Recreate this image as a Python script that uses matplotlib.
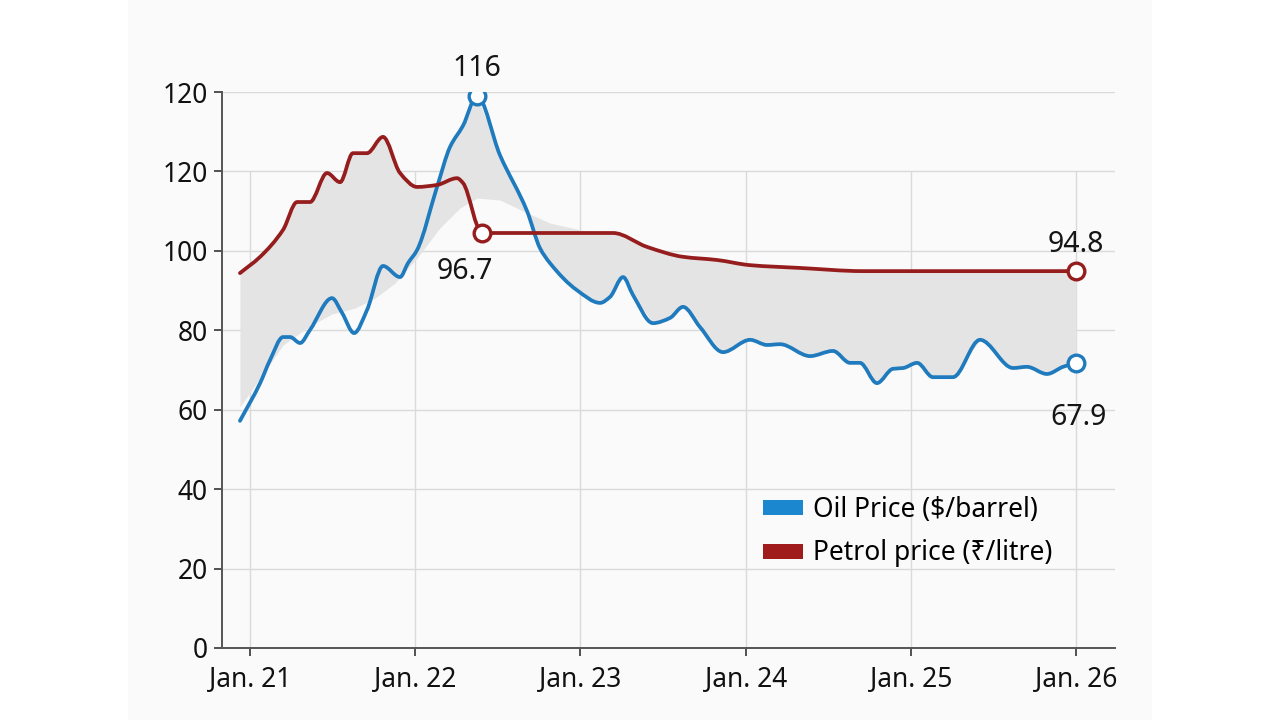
import numpy as np
import matplotlib
matplotlib.use("Agg")
import matplotlib.pyplot as plt
from matplotlib.patches import Patch, Rectangle, PathPatch
from matplotlib.path import Path

plt.rcParams['font.family'] = ['Noto Sans', 'DejaVu Sans']

# oil price line (x in fractional years, y on the chart's own scale)
oil_x = [2020.939, 2021.061, 2021.121, 2021.200, 2021.242, 2021.303, 2021.363,
         2021.496, 2021.557, 2021.630, 2021.708, 2021.805, 2021.908, 2021.956,
         2022.011, 2022.132, 2022.211, 2022.289, 2022.374, 2022.513, 2022.677,
         2022.755, 2022.816, 2022.979, 2023.119, 2023.179, 2023.258, 2023.318,
         2023.439, 2023.542, 2023.621, 2023.724, 2023.863, 2024.027, 2024.130,
         2024.208, 2024.390, 2024.529, 2024.632, 2024.692, 2024.795, 2024.892,
         2024.953, 2025.038, 2025.134, 2025.255, 2025.419, 2025.619, 2025.703,
         2025.824, 2025.921, 2026.0]
oil_y = [57.2, 66.7, 72.5, 78.3, 78.3, 76.8, 80.1,
         88.1, 84.4, 79.3, 85.1, 96.2, 93.4, 96.9,
         100.2, 116.1, 126.2, 131.5, 139.0, 124.1, 110.0,
         100.7, 96.9, 90.1, 86.9, 88.4, 93.4, 88.9,
         81.8, 83.1, 85.9, 80.8, 74.5, 77.6, 76.3,
         76.5, 73.5, 74.8, 71.8, 71.8, 66.7, 70.3,
         70.5, 71.8, 68.2, 68.2, 77.6, 70.5, 70.8,
         69.0, 70.8, 71.8]

# petrol price line
petrol_x = [2020.939, 2021.061, 2021.200, 2021.285, 2021.363, 2021.466, 2021.545,
            2021.623, 2021.708, 2021.805, 2021.908, 2022.011, 2022.132, 2022.253,
            2022.289, 2022.404, 2023.197, 2023.403, 2023.621, 2023.827, 2024.027,
            2024.329, 2024.711, 2026.0]
petrol_y = [94.4, 98.5, 105.3, 112.3, 112.3, 119.6, 117.3,
            124.6, 124.6, 128.7, 119.6, 116.1, 116.6, 118.3,
            117.1, 104.5, 104.5, 101.0, 98.5, 97.7, 96.4,
            95.7, 94.9, 94.9]

# soft edge of the grey shaded band
edge_x = [2020.939, 2021.061, 2021.200, 2021.363, 2021.496, 2021.636, 2021.757,
          2021.878, 2022.011, 2022.150, 2022.271, 2022.374, 2022.513, 2022.665,
          2022.816, 2022.998, 2023.197]
edge_y = [60.7, 68.0, 76.3, 81.1, 84.1, 85.6, 88.1,
          91.9, 98.2, 105.8, 110.8, 113.3, 112.8, 109.8,
          107.0, 105.3, 103.7]
edge_switch = 2022.69

x_ticks = [2021, 2022, 2023, 2024, 2025, 2026]
x_labels = ['Jan. 21', 'Jan. 22', 'Jan. 23', 'Jan. 24', 'Jan. 25', 'Jan. 26']
y_ticks = [0, 20, 40, 60, 80, 100, 120, 140]
y_labels = ['0', '20', '40', '60', '80', '100', '120', '120']

oil_color = '#1f7bbd'
petrol_color = '#961d1d'


def smooth_path(xs, ys):
    # monotone cubic (no overshoot) through the points, as Bezier segments
    x = np.asarray(xs, float)
    y = np.asarray(ys, float)
    h = np.diff(x)
    d = np.diff(y) / h
    m = np.zeros_like(y)
    m[0], m[-1] = d[0], d[-1]
    for k in range(1, len(y) - 1):
        if d[k - 1] * d[k] > 0:
            w1 = 2 * h[k] + h[k - 1]
            w2 = h[k] + 2 * h[k - 1]
            m[k] = (w1 + w2) / (w1 / d[k - 1] + w2 / d[k])
    verts = [(x[0], y[0])]
    codes = [Path.MOVETO]
    for k in range(len(x) - 1):
        verts += [(x[k] + h[k] / 3, y[k] + m[k] * h[k] / 3),
                  (x[k + 1] - h[k] / 3, y[k + 1] - m[k + 1] * h[k] / 3),
                  (x[k + 1], y[k + 1])]
        codes += [Path.CURVE4] * 3
    return Path(verts, codes)


fig = plt.figure(figsize=(12.8, 7.2), dpi=100)
fig.patch.set_facecolor('white')
fig.add_artist(Rectangle((0.1, 0), 0.8, 1, transform=fig.transFigure,
                         facecolor='#fafafa', edgecolor='none', zorder=-5))
ax = fig.add_axes([0.1734, 0.10, 0.6977, 0.7722])
ax.set_facecolor('none')

# shaded band
grid = np.linspace(oil_x[0], oil_x[-1], 1500)
oil_i = np.interp(grid, oil_x, oil_y)
pet_i = np.interp(grid, petrol_x, petrol_y)
edge_i = np.interp(grid, edge_x, edge_y)
in_edge = grid <= edge_x[-1]
hi = np.maximum(pet_i, oil_i)
hi = np.where(in_edge, np.maximum(hi, edge_i), hi)
lo = np.where(grid < edge_switch, edge_i, oil_i)
ax.fill_between(grid, lo, hi, color='#e4e4e4', linewidth=0, zorder=1)

# grid
for yv in y_ticks[1:]:
    ax.axhline(yv, color='#dadada', linewidth=1, zorder=0.5)
ax.vlines(x_ticks, 0, 120, color='#dadada', linewidth=1, zorder=0.5)

for xs, ys, c in [(oil_x, oil_y, oil_color), (petrol_x, petrol_y, petrol_color)]:
    ax.add_patch(PathPatch(smooth_path(xs, ys), facecolor='none', edgecolor=c,
                           linewidth=2.7, joinstyle='round', capstyle='round', zorder=3))

mk = dict(marker='o', markersize=12, markerfacecolor='white', markeredgewidth=2.4,
          linestyle='none', zorder=4)
i_peak = int(np.argmax(oil_y))
ax.plot(oil_x[i_peak], oil_y[i_peak], markeredgecolor=oil_color, **mk)
ax.plot(oil_x[-1], oil_y[-1], markeredgecolor=oil_color, **mk)
ax.plot(petrol_x[15], petrol_y[15], markeredgecolor=petrol_color, **mk)
ax.plot(petrol_x[-1], petrol_y[-1], markeredgecolor=petrol_color, **mk)

lab = dict(fontsize=20.5, color='#151515', fontweight='medium', ha='center',
           va='center', textcoords='offset points', annotation_clip=False)
ax.annotate('116', (oil_x[i_peak], oil_y[i_peak]), xytext=(0, 20), **lab)
ax.annotate('96.7', (petrol_x[15], petrol_y[15]), xytext=(-12, -28), **lab)
ax.annotate('94.8', (petrol_x[-1], petrol_y[-1]), xytext=(0, 19), **lab)
ax.annotate('67.9', (oil_x[-1], oil_y[-1]), xytext=(2, -39), **lab)

ax.set_xlim(2020.83, 2026.236)
ax.set_ylim(0, 140)
ax.set_xticks(x_ticks)
ax.set_xticklabels(x_labels)
ax.set_yticks(y_ticks)
ax.set_yticklabels(y_labels)
ax.tick_params(axis='both', labelsize=19, colors='#444444', labelcolor='#111111',
               length=6, width=1.3, direction='out')
ax.tick_params(axis='x', pad=7)
ax.tick_params(axis='y', pad=4)
for s in ['top', 'right']:
    ax.spines[s].set_visible(False)
for s in ['left', 'bottom']:
    ax.spines[s].set_color('#555555')
    ax.spines[s].set_linewidth(1.4)

handles = [Patch(facecolor='#1a87cf', label='Oil Price ($/barrel)'),
           Patch(facecolor='#a01c1c', label='Petrol price (₹/litre)')]
ax.legend(handles=handles, loc='upper left', bbox_to_anchor=(0.594, 0.293),
          frameon=False, fontsize=19, handlelength=1.5, handleheight=0.5,
          handletextpad=0.38, labelspacing=0.6, borderaxespad=0)

fig.savefig('out.png', dpi=100)
